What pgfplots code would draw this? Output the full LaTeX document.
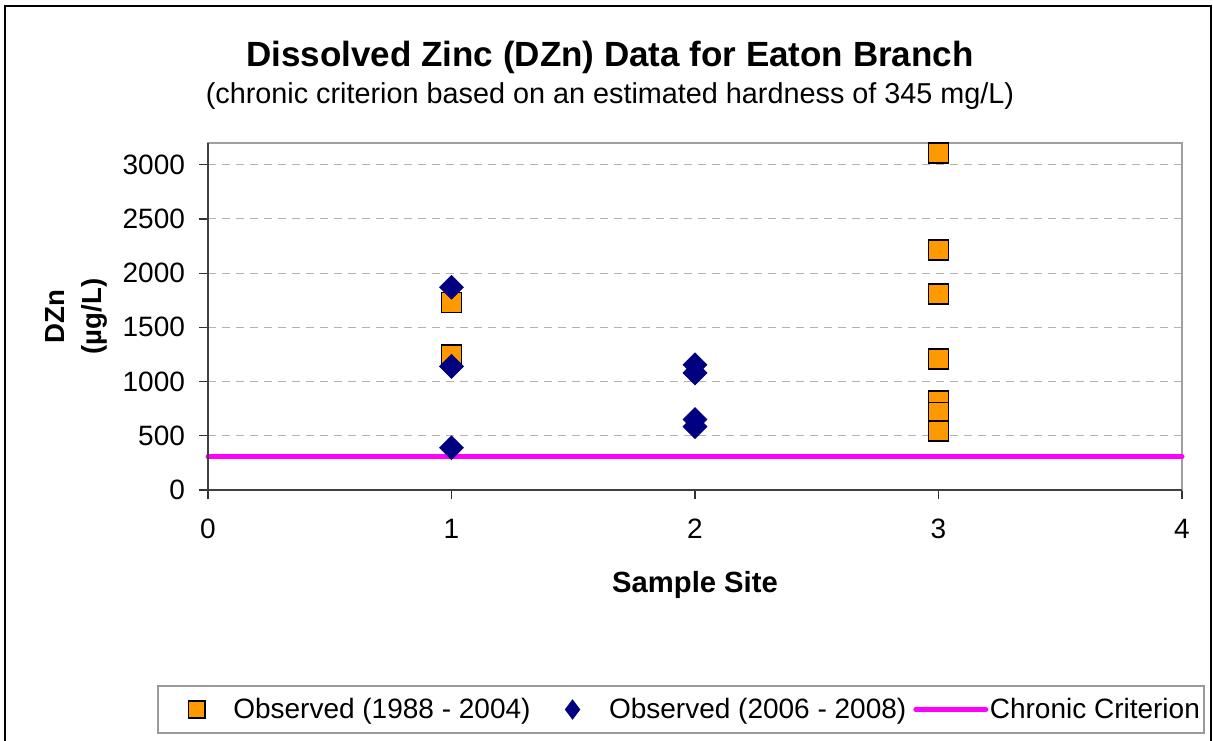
\documentclass[border=0pt]{standalone}
\usepackage{fontspec}
\setmainfont{Liberation Sans}
\usepackage{pgfplots}
\pgfplotsset{compat=1.18}
\definecolor{sqor}{HTML}{FF9900}
\definecolor{dnavy}{HTML}{000080}
\definecolor{crit}{HTML}{FF00FF}
\pgfplotsset{
  sqleg/.style={legend image code/.code={\path[draw=none,fill=none] (0pt,-1pt) rectangle (35pt,1pt); \draw[##1, mark size=4.2pt] plot coordinates {(17.5pt,0pt)};}},
  dmleg/.style={legend image code/.code={\path[draw=none,fill=none] (0pt,-1pt) rectangle (35pt,1pt); \draw[draw=none, mark=diamond*, mark size=4.8pt, mark options={fill=dnavy, draw=dnavy, line width=0.4pt}] plot coordinates {(17.5pt,0pt)};}},
  lineleg/.style={legend image code/.code={\draw[##1] (0pt,0pt) -- (35pt,0pt);}},
}
\begin{document}
\begin{tikzpicture}
\useasboundingbox (0pt,0pt) rectangle (606.5pt,370pt);
\fill[white] (0pt,0pt) rectangle (606.5pt,370pt);
\draw[line width=1pt] (2.5pt,-5pt) -- (2.5pt,367pt) -- (605.5pt,367pt) -- (605.5pt,-5pt);
\node[anchor=base, font=\fontsize{17.5}{20}\selectfont\bfseries, inner sep=0pt] at (305pt,336.5pt) {Dissolved Zinc (DZn) Data for Eaton Branch};
\node[anchor=base, font=\fontsize{14.4}{17}\selectfont, inner sep=0pt] at (305pt,318pt) {(chronic criterion based on an estimated hardness of 345 mg/L)};
\begin{axis}[at={(104pt,125pt)}, anchor=south west, scale only axis,
  width=487pt, height=173.5pt,
  xmin=0, xmax=4, ymin=0, ymax=3200, clip=false,
  xtick={0,1,2,3,4}, ytick={0,500,1000,1500,2000,2500,3000},
  ymajorgrids, grid style={gray!60, line width=0.5pt, dash pattern=on 4pt off 3pt},
  axis line style={gray!75, line width=1pt},
  tick align=outside, xtick pos=bottom, ytick pos=left, major tick length=4.5pt,
  tick style={black!80, line width=0.6pt},
  tick label style={font=\fontsize{14}{16}\selectfont},
  /pgf/number format/assume math mode=true,
  /pgf/number format/1000 sep={},
  scaled ticks=false,
  yticklabel style={xshift=-3.5pt},
  xticklabel style={yshift=-6.5pt},
  xlabel={Sample Site},
  xlabel style={font=\fontsize{14.6}{17}\selectfont\bfseries, at={(axis description cs:0.5,-0.2968)}, anchor=base, inner sep=0pt},
  ylabel={DZn\\(µg/L)},
  ylabel style={font=\fontsize{13.8}{18.5}\selectfont\bfseries, align=center, at={(axis description cs:-0.1355,0.5)}, anchor=center, inner sep=0pt},
  legend columns=3,
  legend style={at={(axis description cs:-0.0524,-0.703)}, anchor=south west,
    draw=gray!80, line width=0.8pt, inner xsep=2pt, inner ysep=6pt,
    font=\fontsize{14}{16}\selectfont,
    nodes={inner sep=0pt},
    /tikz/every odd column/.append style={column sep=0.75pt},
    /tikz/every even column/.append style={column sep=3.5pt}},
  legend cell align=left,
]
\addplot[only marks, mark=square*, mark size=5pt, mark options={fill=sqor, draw=black, line width=0.8pt}, sqleg]
  coordinates {(1,1730) (1,1245) (3,3110) (3,2215) (3,1810) (3,1210) (3,820) (3,715) (3,545)};
\addlegendentry{Observed (1988 - 2004)}
\addplot[only marks, mark=square*, mark size=4.2pt, mark options={fill=dnavy, draw=dnavy, rotate=45}, dmleg]
  coordinates {(1,1870) (1,1140) (1,390) (2,1155) (2,1080) (2,650) (2,585)};
\addlegendentry{Observed (2006 - 2008)}
\addplot[crit, line width=2.5pt, line cap=round, no marks, lineleg]
  coordinates {(0,306) (4,306)};
\addlegendentry{Chronic Criterion}
\draw[black!75, line width=0.8pt] (rel axis cs:0,1) -- (rel axis cs:0,0) -- (rel axis cs:1,0);
\end{axis}
\end{tikzpicture}
\end{document}
